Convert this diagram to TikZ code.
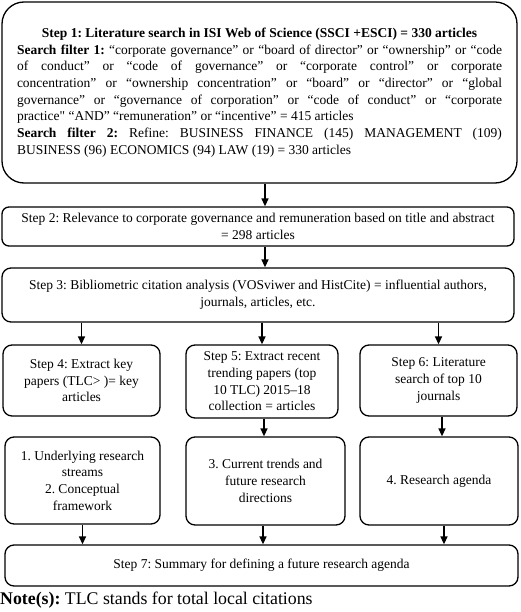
\documentclass[tikz,border=0pt]{standalone}
\usepackage{fontspec}
\setmainfont{Liberation Serif}
\newfontfamily\plainquote{Liberation Serif}[Ligatures=ResetAll]
\usetikzlibrary{arrows.meta}
\frenchspacing

\begin{document}
\begin{tikzpicture}[x=1pt, y=-1pt, font=\fontsize{13.5pt}{16.7pt}\selectfont,
	stepbox/.style={draw, line width=1.3pt, rounded corners=9pt, align=center, inner sep=0pt},
	arr/.style={line width=1.4pt, -{Triangle[length=8pt, width=7pt]}}]
		\useasboundingbox (0,0) rectangle (520,612);
		\node[stepbox, rounded corners=22pt, minimum width=515pt, minimum height=181pt, text width=485pt, align=justify] at (259.5,92.5) (s1) {%
			{\centering\bfseries Step 1: Literature search in ISI Web of Science (SSCI +ESCI) = 330 articles\par}
			\textbf{Search filter 1:} “corporate governance” or “board of director” or “ownership” or “code\linebreak
			of conduct” or “code of governance” or “corporate control” or corporate\linebreak
			concentration” or “ownership concentration” or “board” or “director” or “global\linebreak
			governance” or “governance of corporation” or “code of conduct” or “corporate\linebreak
			practice{\plainquote"} “AND” “remuneration” or “incentive” = 415 articles\par
			\textbf{Search filter 2:} Refine: BUSINESS FINANCE (145) MANAGEMENT (109)\linebreak
			BUSINESS (96) ECONOMICS (94) LAW (19) = 330 articles};
		\node[stepbox, rounded corners=7pt, minimum width=512pt, minimum height=39pt] at (258,226.5) (s2) {Step 2: Relevance to corporate governance and remuneration based on title and abstract\\ = 298 articles};
		\node[stepbox, minimum width=512pt, minimum height=54pt] at (258,295) (s3) {Step 3: Bibliometric citation analysis (VOSviwer and HistCite) = influential authors,\\ journals, articles, etc.};
		% middle row
		\node[stepbox, minimum width=157pt, minimum height=71pt] at (81.5,380.5) (s4) {Step 4: Extract key\\ papers (TLC> )= key\\ articles};
		\node[stepbox, minimum width=152pt, minimum height=73pt] at (262,381.5) (s5) {Step 5: Extract recent\\ trending papers (top\\ 10 TLC) 2015–18\\ collection = articles};
		\node[stepbox, minimum width=157pt, minimum height=71pt] at (438.5,380.5) (s6) {Step 6: Literature\\ search of top 10\\ journals};
		% outcomes
		\node[stepbox, minimum width=155pt, minimum height=87pt] at (82.5,480.5) (r1) {1. Underlying research\\ streams\\ 2. Conceptual\\ framework};
		\node[stepbox, minimum width=159pt, minimum height=88pt] at (265.5,481) (r2) {3. Current trends and\\ future research\\ directions};
		\node[stepbox, minimum width=158pt, minimum height=88pt] at (439,481) (r3) {4. Research agenda};
		\node[stepbox, minimum width=513pt, minimum height=41pt] at (261.5,565.5) (s7) {Step 7: Summary for defining a future research agenda};
		\node[anchor=west, inner sep=0pt, font=\fontsize{17.8pt}{20pt}\selectfont] at (0,600) (note) {\textbf{Note(s):} TLC stands for total local citations};
		\draw[arr] ([xshift=5.5pt]s1.south) -- ([xshift=5.5pt]s1.south |- s2.north);
		\draw[arr] ([xshift=7pt]s2.south) -- ([xshift=7pt]s2.south |- s3.north);
		\draw[arr] (s3.south -| s4) -- (s4.north);
		\draw[arr] (s3.south -| s5) -- (s5.north);
		\draw[arr] (s3.south -| s6) -- (s6.north);
		\draw[arr] ([xshift=2pt]s5.south) -- ([xshift=2pt]s5.south |- r2.north);
		\draw[arr] ([xshift=3.5pt]s6.south) -- ([xshift=3.5pt]s6.south |- r3.north);
		\draw[arr] (r1.south) -- (r1.south |- s7.north);
		\draw[arr] ([xshift=-2.5pt]r2.south) -- ([xshift=-2.5pt]r2.south |- s7.north);
		\draw[arr] ([xshift=5pt]r3.south) -- ([xshift=5pt]r3.south |- s7.north);
	\end{tikzpicture}
\end{document}
